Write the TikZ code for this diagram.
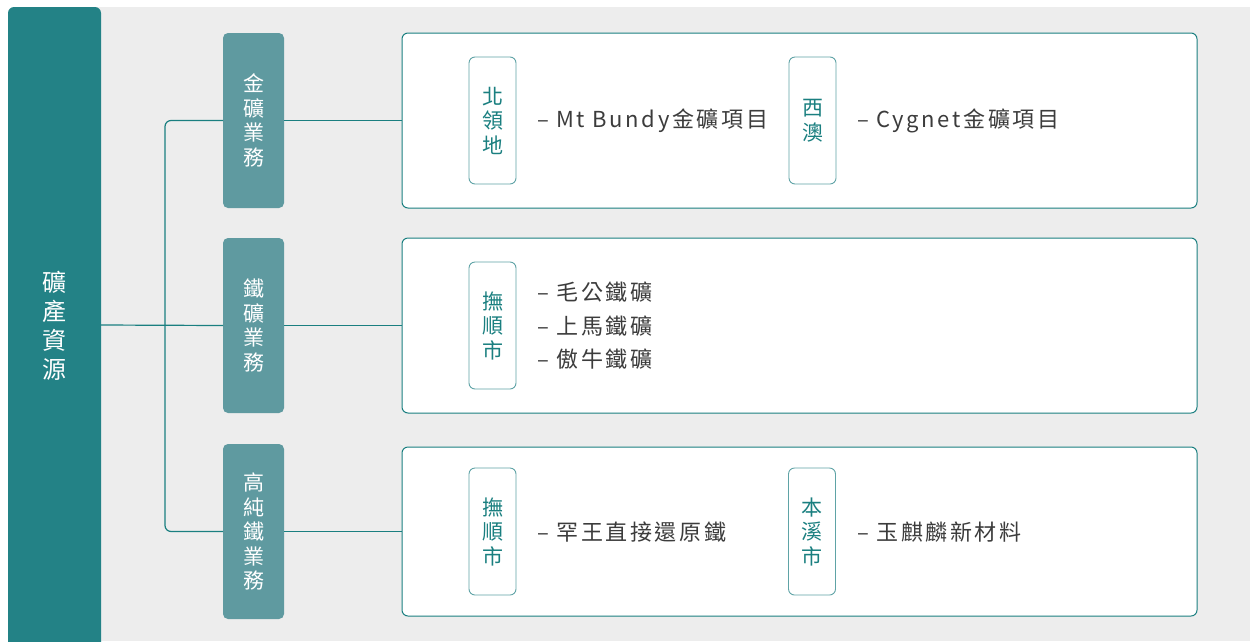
\documentclass[tikz,border=0pt]{standalone}
\usepackage{fontspec}
\setmainfont{Noto Sans CJK TC}
\newfontfamily\itemfont[LetterSpace=12]{Noto Sans CJK TC}
\begin{document}
\begin{tikzpicture}[x=1pt,y=-1pt,
  every node/.style={inner sep=0pt,outer sep=0pt},
  catbox/.style={fill=cat,rounded corners=5pt,minimum width=61pt,minimum height=175pt,text=white,font=\fontsize{21}{24.5}\selectfont,align=center},
  panel/.style={draw=teal1,line width=1pt,fill=white,rounded corners=6pt,minimum width=795pt},
  tag/.style={draw=tagline,line width=0.9pt,fill=white,rounded corners=6pt,minimum width=47pt,minimum height=127pt,text=teal1,font=\fontsize{21}{24.5}\selectfont,align=center},
  item/.style={anchor=west,text=txt,font=\itemfont\fontsize{22}{33.5}\selectfont,align=left},
  link/.style={draw=teal1,line width=1.2pt}]
\definecolor{mainc}{HTML}{238286}
\definecolor{cat}{HTML}{5F9AA0}
\definecolor{teal1}{HTML}{1A7F80}
\definecolor{tagline}{HTML}{5FA3A6}
\definecolor{txt}{HTML}{3C3C3C}
\definecolor{bg}{HTML}{EDEDED}
\useasboundingbox (0,0) rectangle (1250,641);
\fill[white] (0,0) rectangle (1250,641);
\fill[bg] (90,7) rectangle (1250,641);
\fill[mainc,rounded corners=6pt] (8,7) -- (101,7) -- (101,660) -- (8,660) -- cycle;
\node[text=white,font=\fontsize{24}{29}\selectfont,align=center] (main) at (54.5,326) {礦\\產\\資\\源};
\coordinate (mainr) at (101,325);
\coordinate (spine) at (165,325);
% categories
\node[catbox] (gold) at (253.5,120.5) {金\\礦\\業\\務};
\node[catbox] (iron) at (253.5,325.5) {鐵\\礦\\業\\務};
\node[catbox] (hp) at (253.5,531.5) {高\\純\\鐵\\業\\務};
% panels
\node[panel,minimum height=175pt] (p1) at (799.5,120.5) {};
\node[panel,minimum height=175pt] (p2) at (799.5,325.5) {};
\node[panel,minimum height=169pt] (p3) at (799.5,531.5) {};
% connectors
\draw[link] (mainr) -- (iron.west);
\draw[link,rounded corners=6pt] (gold.west) -| (spine) |- (hp.west);
\draw[link] (gold.east) -- (p1.west);
\draw[link] (iron.east) -- (p2.west);
\draw[link] (hp.east) -- (p3.west);
% tags
\node[tag] (t1) at (492.5,120.5) {北\\領\\地};
\node[tag] (t2) at (812.5,120.5) {西\\澳};
\node[tag] (t3) at (492.5,325.5) {撫\\順\\市};
\node[tag] (t4) at (492.5,531.5) {撫\\順\\市};
\node[tag] (t5) at (812,531.5) {本\\溪\\市};
% items
\node[item] (i1) at (537,121) {–~Mt Bundy金礦項目};
\node[item] (i2) at (857,121) {–~Cygnet金礦項目};
\node[item] (i3) at (537,326) {–~毛公鐵礦\\–~上馬鐵礦\\–~傲牛鐵礦};
\node[item] (i4) at (537,532) {–~罕王直接還原鐵};
\node[item] (i5) at (857,532) {–~玉麒麟新材料};
\end{tikzpicture}
\end{document}
